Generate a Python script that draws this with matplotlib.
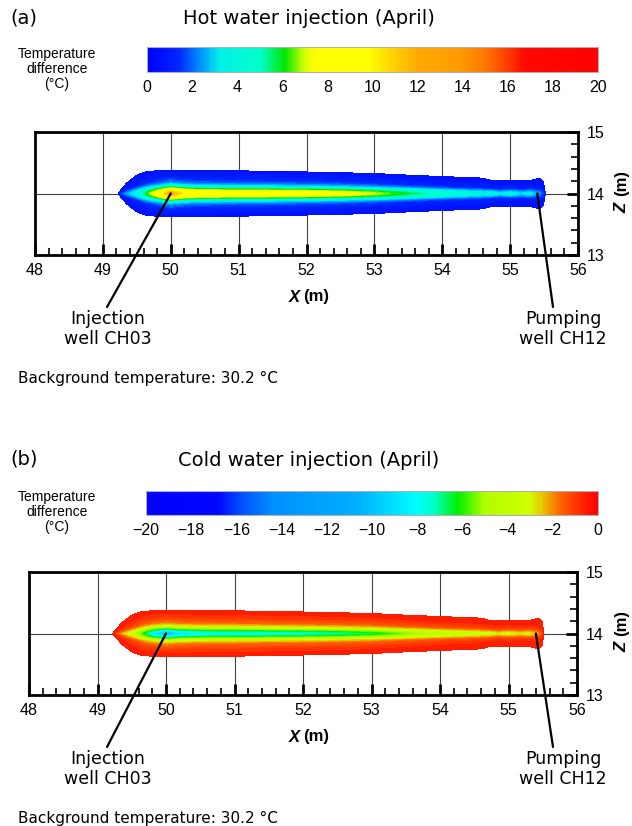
import numpy as np
import matplotlib
matplotlib.use("Agg")
import matplotlib.pyplot as plt
from matplotlib.colors import LinearSegmentedColormap, Normalize
from matplotlib.cm import ScalarMappable
from matplotlib.ticker import MultipleLocator

# ── Data ──
# plume stations along X (m), half-width of the plume (m) and centre-line dT (°C)
plume_x = [49.22, 49.35, 49.5, 49.65, 49.8, 50.0, 50.2, 50.5, 51.0, 51.5, 52.0, 52.5,
           53.0, 53.5, 54.0, 54.3, 54.6, 54.72, 54.85, 55.0, 55.15, 55.3, 55.38,
           55.44, 55.49, 55.52]
plume_hw = [0.0, 0.17, 0.30, 0.36, 0.37, 0.375, 0.375, 0.375, 0.37, 0.36, 0.35, 0.34,
            0.325, 0.30, 0.275, 0.265, 0.25, 0.215, 0.21, 0.215, 0.215, 0.21, 0.235,
            0.245, 0.20, 0.0]
core_hot = [1.0, 2.5, 3.8, 6.0, 8.5, 12.5, 10.0, 9.0, 8.8, 8.7, 8.5, 8.0,
            7.0, 5.8, 4.6, 4.0, 3.6, 3.8, 3.1, 3.6, 3.0, 3.4, 2.6,
            2.2, 1.5, 1.0]
core_cold = [-1.0, -2.5, -3.8, -6.0, -8.5, -10.5, -9.0, -8.3, -8.1, -8.0, -7.8, -7.4,
             -6.8, -5.6, -4.6, -4.0, -3.6, -3.8, -3.1, -3.6, -3.0, -3.4, -2.6,
             -2.2, -1.5, -1.0]
# cross-section profile: relative distance from centre line vs fraction of centre dT
prof_r = [0.0, 0.08, 0.15, 0.22, 0.32, 0.45, 0.70, 1.0]
prof_g = [1.0, 0.90, 0.75, 0.58, 0.33, 0.17, 0.06, 0.0]
dt_min = 0.5

hot_ticks = [0, 2, 4, 6, 8, 10, 12, 14, 16, 18, 20]
cold_ticks = [-20, -18, -16, -14, -12, -10, -8, -6, -4, -2, 0]
x_ticks = [48, 49, 50, 51, 52, 53, 54, 55, 56]
z_ticks = [13, 14, 15]
inj_x, pump_x, well_z = 50.0, 55.4, 14.0

hot_cmap = LinearSegmentedColormap.from_list("hot_tp", [
    (0.0, "#0000ff"), (0.07, "#0028ff"), (0.12, "#0098ff"), (0.16, "#00f0e8"),
    (0.25, "#00ffcc"), (0.305, "#00e600"), (0.345, "#c8ff00"), (0.37, "#ffff00"),
    (0.49, "#ffff00"), (0.55, "#ffd000"), (0.60, "#ffaa00"), (0.69, "#ff9c00"),
    (0.75, "#ff7800"), (0.80, "#ff3c00"), (0.84, "#ff0800"), (1.0, "#ff0000")])
cold_cmap = LinearSegmentedColormap.from_list("cold_tp", [
    (0.0, "#0000ff"), (0.16, "#0008ff"), (0.21, "#0050ff"), (0.28, "#0090ff"),
    (0.47, "#00b0ff"), (0.55, "#00e0ff"), (0.60, "#00ffff"), (0.64, "#00ffc0"),
    (0.69, "#00f000"), (0.75, "#b0ff00"), (0.85, "#d0ff00"), (0.88, "#e8c000"),
    (0.92, "#ff6000"), (0.97, "#ff2000"), (1.0, "#ff0000")])

W, H = 632, 826


def fx(px):
    return px / W


def fy(py):
    return 1 - py / H


def build_field(core):
    xs = np.linspace(48, 56, 1601)
    zs = np.linspace(13, 15, 801)
    X, Z = np.meshgrid(xs, zs)
    hw = np.interp(xs, plume_x, plume_hw, left=0, right=0)
    tc = np.interp(xs, plume_x, core)
    s = np.sign(tc)
    with np.errstate(divide="ignore", invalid="ignore"):
        r = np.where(hw[None, :] > 0, np.abs(Z - well_z) / hw[None, :], 50.0)
    g = np.where(r <= 1, np.interp(r, prof_r, prof_g), -(r - 1))
    T = s * dt_min + (tc - s * dt_min) * g
    return X, Z, T


def panel(top, ax_box, cb_box, tag, title, cmap, vmin, vmax, ticks, core, levels):
    # header
    fig.text(fx(10), fy(top), tag, fontsize=14, family="DejaVu Sans", va="center")
    fig.text(fx(309), fy(top + 1), title, fontsize=14, family="DejaVu Sans",
             va="center", ha="center")

    # colour bar
    norm = Normalize(vmin, vmax)
    cax = fig.add_axes(cb_box)
    cb = fig.colorbar(ScalarMappable(norm=norm, cmap=cmap), cax=cax,
                      orientation="horizontal", ticks=ticks)
    cb.outline.set_edgecolor("#b0b0b0")
    cb.outline.set_linewidth(0.8)
    cax.tick_params(length=0, pad=6, labelsize=11.5)
    for t in cax.get_xticklabels():
        t.set_family("Liberation Sans")
    cb_bottom = (1 - cb_box[1]) * H
    fig.text(fx(57), fy(cb_bottom - 3), "Temperature\ndifference\n(°C)",
             fontsize=10, family="Liberation Sans", ha="center", va="center",
             linespacing=1.05)

    # plume section
    ax = fig.add_axes(ax_box)
    X, Z, T = build_field(core)
    ax.grid(True, which="major", color="#404040", lw=0.8)
    ax.set_axisbelow(True)
    ax.contourf(X, Z, T, levels=levels, cmap=cmap, norm=norm, zorder=1)
    ax.set_xlim(48, 56)
    ax.set_ylim(13, 15)
    ax.set_xticks(x_ticks)
    ax.set_yticks(z_ticks)
    ax.xaxis.set_minor_locator(MultipleLocator(0.2))
    ax.yaxis.set_minor_locator(MultipleLocator(0.2))
    ax.yaxis.tick_right()
    ax.tick_params(which="major", direction="in", length=8, width=2,
                   labelsize=11.5, pad=6)
    ax.tick_params(which="minor", direction="in", length=5, width=1.2)
    ax.tick_params(axis="x", which="both", top=False)
    ax.tick_params(axis="y", which="both", left=False)
    for t in ax.get_xticklabels() + ax.get_yticklabels():
        t.set_family("Liberation Sans")
    for sp in ax.spines.values():
        sp.set_linewidth(2)

    ax_top = (1 - ax_box[1] - ax_box[3]) * H
    ax_bot = (1 - ax_box[1]) * H
    # axis titles
    fig.text(fx(299.5), fy(ax_bot + 42), "X", fontsize=12, family="Liberation Sans",
             weight="bold", style="italic", ha="right", va="center")
    fig.text(fx(303), fy(ax_bot + 42), "(m)", fontsize=12, family="Liberation Sans",
             weight="bold", ha="left", va="center")
    zc = (ax_top + ax_bot) / 2
    fig.text(fx(622), fy(zc + 19), "Z", fontsize=12, family="Liberation Sans",
             weight="bold", style="italic", rotation=90, ha="center", va="bottom")
    fig.text(fx(622), fy(zc - 23), "(m)", fontsize=12, family="Liberation Sans",
             weight="bold", rotation=90, ha="center", va="top")

    # well callouts
    for wx, lx, tx, label in [(inj_x, 107, 108, "Injection\nwell CH03"),
                              (pump_x, 553, 563, "Pumping\nwell CH12")]:
        ax.annotate("", xy=(wx, well_z), xytext=(fx(lx), fy(ax_bot + 52)),
                    textcoords="figure fraction",
                    arrowprops=dict(arrowstyle="-", lw=1.6, color="k",
                                    shrinkA=0, shrinkB=0))
        fig.text(fx(tx), fy(ax_bot + 55), label, fontsize=12.5,
                 family="DejaVu Sans", ha="center", va="top", linespacing=1.15)

    fig.text(fx(18), fy(ax_bot + 123), "Background temperature: 30.2 °C",
             fontsize=11, family="DejaVu Sans", ha="left", va="center")


fig = plt.figure(figsize=(W / 100, H / 100), dpi=100)

panel(18, [fx(35), fy(255), fx(578) - fx(35), (255 - 132) / H],
      [fx(147), fy(72), fx(598) - fx(147), 25 / H],
      "(a)", "Hot water injection (April)", hot_cmap, 0, 20, hot_ticks,
      core_hot, np.arange(dt_min, 20.01, 0.25))

panel(459, [fx(29), fy(695), fx(577) - fx(29), (695 - 572) / H],
      [fx(146), fy(515), fx(598) - fx(146), 24 / H],
      "(b)", "Cold water injection (April)", cold_cmap, -20, 0, cold_ticks,
      core_cold, np.arange(-20, -dt_min + 0.01, 0.25))

fig.savefig("out.png", dpi=100)
